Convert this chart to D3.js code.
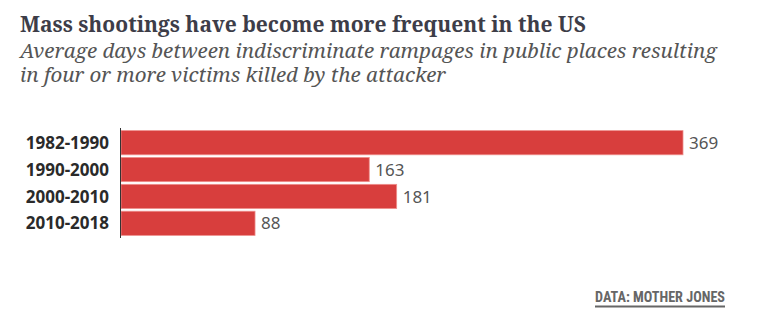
<!DOCTYPE html>
<html lang="en">
<head>
<meta charset="UTF-8">
<script src="https://d3js.org/d3.v7.min.js"></script>
<style>
  body { margin: 0; background: #fff; }
  svg { display: block; }
</style>
</head>
<body>
<svg id="chart" width="759" height="333"></svg>
<script>
// data
const periods = ["1982-1990", "1990-2000", "2000-2010", "2010-2018"];
const avgDays = [369, 163, 181, 88];

const svg = d3.select("#chart");

// scale font size so a text hits a target width
function fitText(sel, target) {
  const w = sel.node().getComputedTextLength();
  const fs = parseFloat(sel.style("font-size"));
  sel.style("font-size", (fs * target / w).toFixed(2) + "px");
  return fs * target / w;
}

// title + subtitle
const title = svg.append("text")
  .attr("x", 20).attr("y", 32)
  .style("font-family", "'Noto Serif', serif")
  .style("font-weight", "bold")
  .style("font-size", "20px")
  .style("fill", "#3d3d48")
  .text("Mass shootings have become more frequent in the US");
fitText(title, 566);

const sub1 = svg.append("text")
  .attr("x", 20).attr("y", 58)
  .style("font-family", "'Noto Serif', serif")
  .style("font-style", "italic")
  .style("font-size", "19px")
  .style("fill", "#555")
  .text("Average days between indiscriminate rampages in public places resulting");
const subSize = fitText(sub1, 697);

svg.append("text")
  .attr("x", 20).attr("y", 82)
  .style("font-family", "'Noto Serif', serif")
  .style("font-style", "italic")
  .style("font-size", subSize.toFixed(2) + "px")
  .style("fill", "#555")
  .text("in four or more victims killed by the attacker");

// scales
const x = d3.scaleLinear().domain([0, 369]).range([121, 683]);
const y = d3.scaleBand().domain(periods).range([129, 237]).paddingInner(0.1).paddingOuter(0.06);

// bars
svg.append("g").selectAll("rect")
  .data(periods)
  .join("rect")
    .attr("x", x(0))
    .attr("y", d => y(d))
    .attr("width", (d, i) => x(avgDays[i]) - x(0))
    .attr("height", y.bandwidth())
    .attr("fill", "#d83e3d")
    .attr("stroke", "#ee8f8c")
    .attr("stroke-width", 0.8);

// value labels
svg.append("g").selectAll("text")
  .data(periods)
  .join("text")
    .attr("x", (d, i) => x(avgDays[i]) + 6)
    .attr("y", d => y(d) + y.bandwidth() / 2)
    .attr("dy", "0.36em")
    .style("font-family", "'Noto Sans', sans-serif")
    .style("font-size", "17px")
    .style("fill", "#555")
    .text((d, i) => avgDays[i]);

// category axis
const axis = svg.append("g")
  .attr("transform", "translate(120,0)")
  .call(d3.axisLeft(y).tickSize(0).tickPadding(11));
axis.select(".domain")
  .attr("d", "M0.5,128V238")
  .attr("stroke", "#333")
  .attr("stroke-width", 1);
axis.selectAll(".tick text")
  .attr("dy", "0.36em")
  .style("font-family", "'Noto Sans', sans-serif")
  .style("font-weight", "bold")
  .style("font-size", "17px")
  .style("fill", "#2a2a2a");

// source
const src = svg.append("text")
  .attr("x", 725).attr("y", 302)
  .attr("text-anchor", "end")
  .style("font-family", "'Roboto Condensed', sans-serif")
  .style("font-weight", "bold")
  .style("font-size", "14px")
  .style("fill", "#666")
  .text("DATA: MOTHER JONES");
fitText(src, 130);
svg.append("line")
  .attr("x1", 595).attr("x2", 725)
  .attr("y1", 306.5).attr("y2", 306.5)
  .attr("stroke", "#666").attr("stroke-width", 2);
</script>
</body>
</html>
